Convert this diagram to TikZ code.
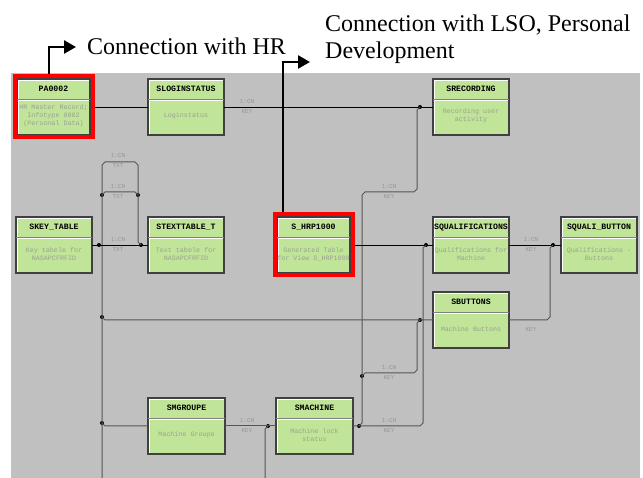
\documentclass[tikz,border=0pt]{standalone}
\usepackage{fontspec}
\setmainfont{Liberation Serif}
\newfontfamily\monofam{Liberation Mono}
\usetikzlibrary{arrows.meta,fit}

\definecolor{panelgrey}{RGB}{192,192,192}
\definecolor{boxgreen}{RGB}{192,228,152}
\definecolor{boxedge}{RGB}{64,64,64}
\definecolor{sepgrey}{RGB}{128,128,128}
\definecolor{desctext}{RGB}{156,162,146}
\definecolor{lbltext}{RGB}{150,150,150}
\definecolor{wiregrey}{RGB}{85,85,85}
\definecolor{hlred}{RGB}{255,0,0}

\tikzset{
  ebox/.style={draw=boxedge, line width=1.1pt, fill=boxgreen, minimum width=76pt,
    minimum height=56pt, inner sep=0pt, outer sep=0pt, anchor=north west},
  hdr/.style={font=\monofam\bfseries\fontsize{8.2}{8}\selectfont, text=black,
    inner sep=0pt, text height=5pt, text depth=0pt},
  dsc/.style={font=\monofam\fontsize{6.7}{8}\selectfont, text=desctext, align=center, inner sep=0pt},
  lbl/.style={font=\monofam\fontsize{6}{6}\selectfont, text=lbltext, inner sep=0pt},
  wire/.style={draw=black, line width=0.9pt},
  gwire/.style={draw=wiregrey, line width=1pt},
  jdot/.style={circle, fill=black, inner sep=0pt, minimum size=4pt},
  redframe/.style={draw=hlred, line width=4pt, inner sep=2.5pt, fit=#1},
  annot/.style={draw=black, line width=2.5pt, -{Triangle[length=12pt,width=13pt]}},
  callout/.style={font=\fontsize{24}{27}\selectfont, inner sep=0pt, anchor=base west},
}

% entity box: name, left, top, width, header, description
\newcommand{\entbox}[6]{%
  \node[ebox, minimum width=#4pt] (#1) at (#2,#3) {};
  \draw[white, line width=0.8pt] ([shift={(1.4pt,1.4pt)}]#1.south west) |- ([shift={(-1.4pt,-1.4pt)}]#1.north east);
  \draw[sepgrey, line width=0.8pt] ([yshift=-20pt]#1.north west) -- ([yshift=-20pt]#1.north east);
  \draw[white, line width=0.8pt] ([shift={(1pt,-21.3pt)}]#1.north west) -- ([shift={(-1pt,-21.3pt)}]#1.north east);
  \node[hdr] at ([yshift=-10pt]#1.north) {#5};
  \node[dsc] at ([yshift=-37pt]#1.north) {#6};
}

% relationship cardinality, printed above and below a line
\newcommand{\cardlbl}[3]{%
  \node[lbl] at (#1,#2-5.5) {1:CN};
  \node[lbl] at (#1,#2+4.5) {#3};
}

\begin{document}
\begin{tikzpicture}[x=1pt,y=-1pt]
\useasboundingbox (0,0) rectangle (643,478);
\fill[white] (0,0) rectangle (643,478);
\fill[panelgrey] (11,73) rectangle (640,478);

% entity boxes
\entbox{pa}{17}{79}{73}{PA0002}{HR Master Record;\\Infotype 0002\\(Personal Data)}
\entbox{slog}{148}{79}{76}{SLOGINSTATUS}{Loginstatus}
\entbox{srec}{433}{79}{76}{SRECORDING}{Recording user\\activity}
\entbox{skey}{16}{217}{76}{SKEY\_TABLE}{Key tabele for\\NASAPCFRFID}
\entbox{stext}{148}{217}{76}{STEXTTABLE\_T}{Text tabele for\\NASAPCFRFID}
\entbox{hrp}{277}{217}{73}{S\_HRP1000}{Generated Table\\for View S\_HRP1000}
\entbox{squal}{433}{217}{76}{SQUALIFICATIONS}{Qualifications for\\Machine}
\entbox{sqbtn}{561}{217}{76}{SQUALI\_BUTTON}{Qualifications -\\Buttons}
\entbox{sbtn}{433}{292}{76}{SBUTTONS}{Machine Buttons}
\entbox{smgr}{148}{398}{77}{SMGROUPE}{Machine Groupe}
\entbox{smach}{276}{398}{77}{SMACHINE}{Machine lock\\status}

% highlighted entities
\node[redframe=(pa)] (paframe) {};
\node[redframe=(hrp)] (hrpframe) {};

% junction dots
\node[jdot] (j1) at (420,107) {};
\node[jdot] (j2) at (426,245) {};
\node[jdot] (j3) at (553,245) {};
\node[jdot] (j4) at (102,317) {};
\node[jdot] (j5) at (359,426) {};
\node[jdot] (j6) at (420,320) {};
\node[jdot] (j7) at (362,376) {};
\node[jdot] (j8) at (99,245) {};
\node[jdot] (j9) at (141,245) {};
\node[jdot] (j10) at (102,195) {};
\node[jdot] (j11) at (138,195) {};
\node[jdot] (j12) at (102,423) {};
\node[jdot] (j13) at (268,426) {};
\coordinate (leftend) at (102,478);
\coordinate (midend) at (265,478);

% top row
\draw[wire] (paframe.east) -- (slog.west);
\draw[wire] (slog.east) -- (srec.west);
\cardlbl{247}{107}{KEY}
\draw[gwire] (j1.center) -- (417,110) -- (417,189) -- (414,192) -- (365,192) -- (362,195) -- (362,423) -- (j5.center);
\cardlbl{389}{192}{KEY}

% middle row
\draw[wire] (hrpframe.east) -- (squal.west);
\draw[gwire] (j2.center) -- (423,248) -- (423,423) -- (420,426) -- (smach.east);
\cardlbl{389}{426}{KEY}
\draw[wire] (squal.east) -- (sqbtn.west);
\cardlbl{531}{245}{KEY}
\draw[gwire] (j3.center) -- (550,248) -- (550,317) -- (547,320) -- (sbtn.east);
\node[lbl] at (531,330) {KEY};

% key / text table links
\draw[gwire] (leftend) -- (102,165) -- (105,162) -- (135,162) -- (138,165) -- (138,242) -- (j9.center);
\cardlbl{118}{161}{TXT}
\draw[gwire] (j10.center) -- (105,192) -- (135,192) -- (j11.center);
\cardlbl{118}{192}{TXT}
\draw[wire] (skey.east) -- (stext.west);
\cardlbl{118}{245}{TXT}

% buttons line
\draw[gwire] (j4.center) -- (105,320) -- (sbtn.west);
\draw[gwire] (j6.center) -- (417,323) -- (417,370) -- (414,373) -- (365,373) -- (j7.center);
\cardlbl{389}{373}{KEY}

% bottom row
\draw[gwire] (j12.center) -- (105,426) -- (smgr.west);
\draw[gwire] (smgr.east) -- (smach.west);
\cardlbl{247}{426}{KEY}
\draw[gwire] (j13.center) -- (265,429) -- (midend);

% call-outs
\coordinate (hrtip) at (76,47);
\coordinate (lsotip) at (310,62);
\draw[annot] ([xshift=-4.5pt]paframe.north) |- (hrtip);
\draw[annot] ([xshift=-30.5pt]hrpframe.north) |- (lsotip);
\node[callout] (hrtext) at (87,55) {Connection with HR};
\node[callout] (lsotext1) at (325,32) {Connection with LSO, Personal};
\node[callout] (lsotext2) at (325,59) {Development};
\end{tikzpicture}
\end{document}
